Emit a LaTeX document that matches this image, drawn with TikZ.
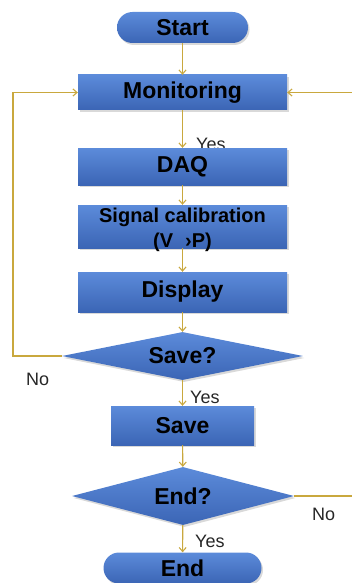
\documentclass[tikz,border=0pt]{standalone}
\usepackage{fontspec}
\setmainfont{Liberation Sans}
\usetikzlibrary{shapes.geometric,shadows,arrows.meta}
\definecolor{boxtop}{HTML}{5C8BDA}
\definecolor{boxbot}{HTML}{3B65B5}
\definecolor{flowline}{HTML}{C9A83E}
\begin{document}
\begin{tikzpicture}[x=1pt,y=-1pt,
  blockbase/.style={top color=boxtop,bottom color=boxbot,draw=none,
    drop shadow={shadow xshift=1.5pt,shadow yshift=-2pt,opacity=0.3},
    font=\fontsize{23}{26}\selectfont\bfseries,text=black,inner sep=0pt,align=center},
  procbox/.style={blockbase,rectangle},
  terminal/.style={blockbase,rectangle,rounded corners=15.5pt},
  decision/.style={blockbase,diamond,aspect=5},
  flow/.style={draw=flowline,line width=1.1pt,-{Straight Barb[length=4pt,width=7pt]}},
  tag/.style={font=\fontsize{18}{20}\selectfont,text=black!85,inner sep=0pt,anchor=base west}]
\useasboundingbox (0,0) rectangle (352,583);

% flow blocks
\node[terminal,minimum width=131pt,minimum height=31pt] (start) at (182.5,27.5) {Start};
\node[procbox,minimum width=209pt,minimum height=35pt] (mon) at (182.5,92.5) {Monitoring};
\node[tag] (yes1) at (196,150) {Yes};
\node[procbox,minimum width=209pt,minimum height=37pt] (daq) at (182.5,166.5) {DAQ};
\node[procbox,minimum width=209pt,minimum height=43pt,
      label={[yshift=-3pt,font=\fontsize{20}{25}\selectfont\bfseries,align=center,inner sep=0pt]center:Signal calibration\\(V\hspace{12pt}›P)}]
      (cal) at (182.5,226.5) {};
\node[procbox,minimum width=209pt,minimum height=40pt] (disp) at (182.5,292) {Display};
\node[decision,minimum width=241pt,minimum height=48pt] (qsave) at (182.5,356) {Save?};
\node[tag] (yes2) at (190,403) {Yes};
\node[procbox,minimum width=143pt,minimum height=39pt] (save) at (182.5,425.5) {Save};
\node[decision,minimum width=222pt,minimum height=58pt] (qend) at (183,496) {End?};
\node[tag] (yes3) at (195,547) {Yes};
\node[terminal,minimum width=158pt,minimum height=31pt] (end) at (182.5,568) {End};
\node[tag] (no1) at (26,385) {No};
\node[tag] (no2) at (312,520) {No};

% rails for the two loops back to monitoring
\coordinate (leftrail) at (13,0);
\coordinate (rightrail) at (360,0);

% connectors
\draw[flow] (start) -- (mon);
\draw[flow] (mon) -- (daq);
\draw[flow] (daq) -- (cal);
\draw[flow] (cal) -- (disp);
\draw[flow] (disp) -- (qsave);
\draw[flow] (qsave) -- (save);
\draw[flow] (save) -- (qend);
\draw[flow] (qend) -- (end);
\draw[flow] (qsave.west) -- (qsave.west -| leftrail) |- (mon.west);
\draw[flow] (qend.east) -- (qend.east -| rightrail) |- (mon.east);
\end{tikzpicture}
\end{document}
